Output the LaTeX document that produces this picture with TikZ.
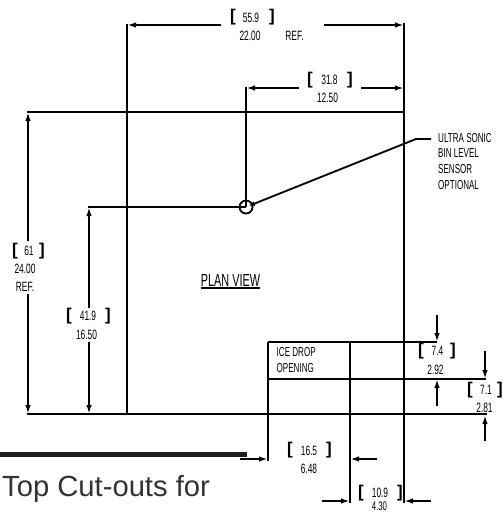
\documentclass[tikz,border=0pt]{standalone}
\usepackage{fontspec}
\setmainfont{Liberation Sans}
\newfontfamily\dimfont[FakeStretch=0.62]{Liberation Sans}
\usetikzlibrary{arrows.meta}
\tikzset{
	dimtext/.style = {font=\dimfont\fontsize{13.5}{15}\selectfont, inner sep=0pt, align=center},
	bracket/.style = {font=\fontsize{17}{17}\selectfont\bfseries, inner sep=0pt},
	edge/.style = {line width=1.8pt},
	dim/.style = {line width=1.8pt, -{Latex[length=9pt,width=5.5pt]}},
}
\begin{document}
\begin{tikzpicture}[x=1pt,y=-1pt]
		\useasboundingbox (0,0) rectangle (503,514);
		% outline
		\coordinate (LT) at (127,24);
		\coordinate (LB) at (127,414);
		\coordinate (RT) at (404,23);
		\coordinate (RB) at (404,503);
		\coordinate (TL) at (27,112);
		\coordinate (TR) at (404,112);
		\coordinate (BL) at (27,414);
		\coordinate (BR) at (487,414);
		\draw [edge] (LT) -- (LB);
		\draw [edge] (RT) -- (RB);
		\draw [edge] (TL) -- (TR);
		\draw [edge] (BL) -- (BR);
		%
		% sensor
		\node (sensor) [circle, draw, line width=1.8pt, minimum size=13pt, inner sep=0pt] at (246,207){};
		\coordinate (sensorT) at (246,87);
		\coordinate (sensorL) at (88,207);
		\coordinate (bend) at (416,139);
		\coordinate (leader) at (431,139);
		\draw [edge] (sensorT) -- (sensor.center);
		\draw [edge] (sensorL) -- (sensor.center);
		\draw [line width=1.8pt, shorten >=3pt, -{Latex[length=6pt,width=5pt]}] (leader) -- (bend) -- (sensor.center);
		\node (sensortext) [dimtext, align=left, anchor=north west, font=\dimfont\fontsize{13}{15.7}\selectfont] at (438,133){ULTRA SONIC\\BIN LEVEL\\SENSOR\\OPTIONAL};
		\node (plan) [dimtext, anchor=base, font=\dimfont\fontsize{17.5}{19}\selectfont] at (230.5,286){PLAN VIEW};
		\draw [line width=1.3pt] ([yshift=-2pt]plan.base west) -- ([yshift=-2pt]plan.base east);
		%
		% opening
		\coordinate (OA) at (268,342);
		\coordinate (OB) at (437,342);
		\coordinate (OC) at (268,379);
		\coordinate (OD) at (486,379);
		\coordinate (OE) at (268,461);
		\coordinate (OF) at (350,342);
		\coordinate (OG) at (350,503);
		\draw [edge] (OA) -- (OB);
		\draw [edge] (OC) -- (OD);
		\draw [edge] (OA) -- (OE);
		\draw [edge] (OF) -- (OG);
		\node (opening) [dimtext, align=left, anchor=north west, font=\dimfont\fontsize{13}{16.5}\selectfont] at (276.5,347){ICE DROP\\OPENING};
		%
		% dimensions
		\node (d559) [dimtext] at (251,17.5){55.9};
		\node [bracket] at (233,17){[};
		\node [bracket] at (272,17){]};
		\node (d2200) [dimtext] at (250,36){22.00};
		\node (dref) [dimtext] at (294.5,36){REF.};
		\coordinate (a1) at (221,25);
		\coordinate (a2) at (324,25);
		\draw [dim] (a1) -- (127,25);
		\draw [dim] (a2) -- (404,25);
		%
		\node (d318) [dimtext] at (329.5,80){31.8};
		\node [bracket] at (310,80){[};
		\node [bracket] at (350,80){]};
		\node (d1250) [dimtext] at (327.5,98){12.50};
		\coordinate (b1) at (299,88);
		\coordinate (b2) at (361,88);
		\draw [dim] (b1) -- (246,88);
		\draw [dim] (b2) -- (404,88);
		%
		\node (d61) [dimtext] at (29,251){61};
		\node [bracket] at (15,251){[};
		\node [bracket] at (42,251){]};
		\node (d2400) [dimtext] at (25,269){24.00};
		\node (dref2) [dimtext] at (25,287){REF.};
		\coordinate (c1) at (28,241);
		\coordinate (c2) at (28,294);
		\draw [dim] (c1) -- (28,112);
		\draw [dim] (c2) -- (28,414);
		%
		\node (d419) [dimtext] at (88,316){41.9};
		\node [bracket] at (69,316){[};
		\node [bracket] at (108,316){]};
		\node (d1650) [dimtext] at (86.5,334.5){16.50};
		\coordinate (e1) at (89,308);
		\coordinate (e2) at (89,342);
		\draw [dim] (e1) -- (89,207);
		\draw [dim] (e2) -- (89,414);
		%
		\node (d74) [dimtext] at (437.5,351){7.4};
		\node [bracket] at (421,351){[};
		\node [bracket] at (453,351){]};
		\node (d292) [dimtext] at (435.5,369.5){2.92};
		\coordinate (f1) at (437,315);
		\coordinate (f2) at (437,406);
		\draw [dim] (f1) -- (437,342);
		\draw [dim] (f2) -- (437,379);
		%
		\node (d71) [dimtext] at (486,390){7.1};
		\node [bracket] at (470,390){[};
		\node [bracket] at (500,390){]};
		\node (d281) [dimtext] at (484.5,408){2.81};
		\coordinate (g1) at (485,351);
		\coordinate (g2) at (485,441);
		\draw [dim] (g1) -- (485,379);
		\draw [dim] (g2) -- (485,415);
		%
		\node (d165) [dimtext] at (309,451){16.5};
		\node [bracket] at (290,450){[};
		\node [bracket] at (329,450){]};
		\node (d648) [dimtext] at (309,469){6.48};
		\coordinate (h1) at (240,459);
		\coordinate (h2) at (377,459);
		\draw [dim] (h1) -- (268,459);
		\draw [dim] (h2) -- (350,459);
		%
		\node (d109) [dimtext] at (380,493){10.9};
		\node [bracket] at (361,493){[};
		\node [bracket] at (400,493){]};
		\node (d430) [dimtext, font=\dimfont\fontsize{12.5}{13}\selectfont] at (379.5,506.5){4.30};
		\coordinate (k1) at (322,501);
		\coordinate (k2) at (431,501);
		\draw [dim] (k1) -- (350,501);
		\draw [dim] (k2) -- (404,501);
		%
		% page text
		\coordinate (barL) at (0,454.5);
		\coordinate (barR) at (247,454.5);
		\draw [line width=5pt, color=black!88] (barL) -- (barR);
		\node (title) [anchor=base west, inner sep=0pt, font=\fontsize{29.2}{29.2}\selectfont, text=black!80] at (2,496){Top Cut-outs for};
	\end{tikzpicture}
\end{document}
